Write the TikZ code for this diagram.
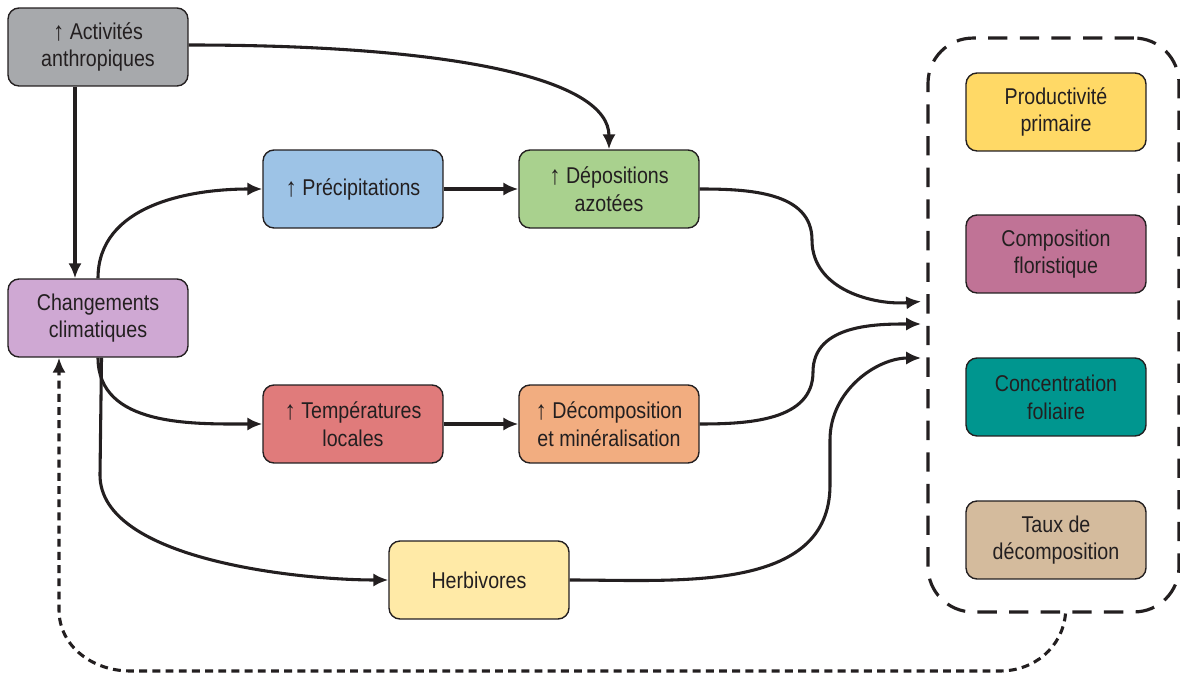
\documentclass[tikz,border=0pt]{standalone}
\usepackage{fontspec}
\setmainfont[FakeStretch=0.86]{Liberation Sans}
\usetikzlibrary{arrows.meta,calc}

\definecolor{inkdark}{HTML}{231F20}
\definecolor{cgray}{HTML}{A7A9AC}
\definecolor{cclimat}{HTML}{CFA8D3}
\definecolor{cprecip}{HTML}{9DC3E6}
\definecolor{cazote}{HTML}{A9D18E}
\definecolor{ctemp}{HTML}{E07B7B}
\definecolor{cdecomp}{HTML}{F2AD80}
\definecolor{cherbi}{HTML}{FFEAA7}
\definecolor{cprod}{HTML}{FFD966}
\definecolor{cflor}{HTML}{C07396}
\definecolor{cfol}{HTML}{00968F}
\definecolor{ctaux}{HTML}{D4BB9D}
\newcommand{\upar}{\raisebox{-0.1ex}{\scalebox{1.15}{↑}}}

\begin{document}
\begin{tikzpicture}[x=0.02cm,y=-0.02cm,
        box/.style={draw=inkdark,line width=0.8pt,rounded corners=0.22cm,
            minimum width=3.6cm,minimum height=1.56cm,inner sep=0pt,
            align=center,text=inkdark,font=\fontsize{13}{15.8}\selectfont},
        link/.style={draw=inkdark,line width=1.75pt,-{Latex[length=8.5pt,width=7.5pt]}},
        feedback/.style={link,dash pattern=on 4.5pt off 3pt},
        outframe/.style={draw=inkdark,line width=1.8pt,dash pattern=on 11pt off 7pt,
            rounded corners=0.9cm,minimum width=5.02cm,minimum height=11.48cm}]
        \useasboundingbox (0,0) rectangle (1180,675);
        % Drivers
        \node[box,fill=cgray] (act) at (98,47) {\upar\ Activités\\anthropiques};
        \node[box,fill=cclimat] (chg) at (98,318) {Changements\\climatiques};
        % Middle chain
        \node[box,fill=cprecip] (prec) at (353,189) {\upar\ Précipitations};
        \node[box,fill=cazote] (azo) at (609,189) {\upar\ Dépositions\\azotées};
        \node[box,fill=ctemp] (temp) at (353,424) {\upar\ Températures\\locales};
        \node[box,fill=cdecomp] (deco) at (609,424) {\upar\ Décomposition\\et minéralisation};
        \node[box,fill=cherbi] (herb) at (479,580) {Herbivores};
        % Responses
        \node[outframe] (resp) at (1053.5,325) {};
        \node[box,fill=cprod] (prod) at (1056,112) {Productivité\\primaire};
        \node[box,fill=cflor] (flor) at (1056,254) {Composition\\floristique};
        \node[box,fill=cfol] (fol) at (1056,397) {Concentration\\foliaire};
        \node[box,fill=ctaux] (taux) at (1056,540) {Taux de\\décomposition};
        \coordinate (in1) at (resp.west |- 0,301);
        \coordinate (in2) at (resp.west |- 0,324);
        \coordinate (in3) at (resp.west |- 0,358);
        % Links
        \draw[link] (act.east |- 0,45) .. controls (460,45) and (609,80) .. (azo.north);
        \draw[link] (act.south -| 75,0) -- (chg.north -| 75,0);
        \draw[link] (chg.north) to[out=90,in=180] (prec.west);
        \draw[link] (prec) -- (azo);
        \draw[link] (chg.south) to[out=-90,in=180] (temp.west);
        \draw[link] (temp) -- (deco);
        \draw[link] ([xshift=2pt]chg.south) -- (100,475) .. controls (100,560) and (300,580) .. (herb.west);
        \draw[link,shorten >=3pt] (azo.east) to[out=0,in=90] (812,240) to[out=-90,in=185] (in1);
        \draw[link,shorten >=3pt] (deco.east) to[out=0,in=-90] (813,372) to[out=90,in=180] (in2);
        \draw[link,shorten >=3pt] (herb.east) to[out=0,in=-90] (830,485) -- (830,440) to[out=90,in=180] (in3);
        % Feedback
        \draw[feedback] ($(resp.south)+(12,0)$) to[out=-95,in=0] (1000,671) -- (130,671)
            to[out=180,in=-90] (59,610) -- (chg.south -| 59,0);
    \end{tikzpicture}
\end{document}
